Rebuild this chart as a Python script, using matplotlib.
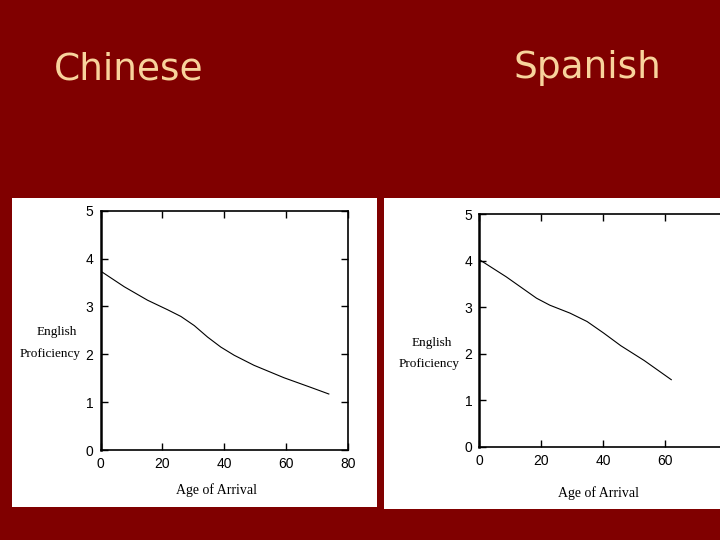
import matplotlib
matplotlib.use("Agg")
import matplotlib.pyplot as plt
from matplotlib.patches import Rectangle

# colours of the slide
bg = "#800000"
title_col = "#F8D39C"

# data
titles = ["Chinese", "Spanish"]
chinese_age = [0, 7.7, 15.2, 21.7, 26, 30.3, 34.6, 38.9, 43.2, 49.6, 59.3, 67.9, 73.8]
chinese_prof = [3.74, 3.41, 3.13, 2.93, 2.79, 2.60, 2.36, 2.15, 1.98, 1.77, 1.51, 1.31, 1.17]
spanish_age = [0, 8.7, 18.5, 22.8, 29.3, 34.8, 40.2, 45.7, 53.3, 62]
spanish_prof = [4.02, 3.65, 3.19, 3.04, 2.87, 2.69, 2.44, 2.17, 1.85, 1.44]
xticks = [0, 20, 40, 60, 80]
yticks = [0, 1, 2, 3, 4, 5]

W, H = 720, 540
fig = plt.figure(figsize=(7.2, 5.4), dpi=100, facecolor=bg)

def box(x0, y0, x1, y1):
    # pixel box (top-left origin) -> figure fraction rect
    return [x0 / W, 1 - y1 / H, (x1 - x0) / W, (y1 - y0) / H]

# white scanned panels
for (x0, y0, x1, y1) in [(12, 198, 376.5, 507), (384, 198, 722, 509)]:
    r = box(x0, y0, x1, y1)
    fig.patches.append(Rectangle((r[0], r[1]), r[2], r[3], transform=fig.transFigure,
                                 facecolor="white", edgecolor="none", zorder=-5))

# titles
fig.text(129 / W, 1 - 79 / H, titles[0], color=title_col, fontsize=27,
         family="DejaVu Sans", ha="center", va="baseline")
fig.text(587 / W, 1 - 78 / H, titles[1], color=title_col, fontsize=27,
         family="DejaVu Sans", ha="center", va="baseline")

ax1 = fig.add_axes(box(100.5, 210.7, 348, 450))
ax2 = fig.add_axes(box(479.3, 214, 727, 446.7))

def style(ax, xs, ys, eng_xy, prof_xy, xl_xy):
    ax.set_zorder(2)
    ax.patch.set_alpha(0)
    ax.plot(xs, ys, color="black", lw=0.8)
    ax.set_xlim(0, 80)
    ax.set_ylim(0, 5)
    ax.set_xticks(xticks)
    ax.set_yticks(yticks)
    ax.tick_params(direction="in", top=True, right=True, length=5, width=1,
                   labelsize=10, pad=5)
    for lab in ax.get_xticklabels() + ax.get_yticklabels():
        lab.set_family("Liberation Sans")
    for s in ax.spines.values():
        s.set_linewidth(1.2)
    ax.spines["left"].set_linewidth(1.8)
    ax.text(eng_xy[0], eng_xy[1], "English", transform=ax.transAxes,
            family="Liberation Serif", fontsize=9.5, ha="center", va="center")
    ax.text(prof_xy[0], prof_xy[1], "Proficiency", transform=ax.transAxes,
            family="Liberation Serif", fontsize=9.5, ha="center", va="center")
    ax.text(xl_xy[0], xl_xy[1], "Age of Arrival", transform=ax.transAxes,
            family="Liberation Serif", fontsize=10, ha="center", va="center")

# label positions (axes fractions)
style(ax1, chinese_age, chinese_prof,
      ((56.7 - 100.5) / 247.5, (450 - 331.7) / 239.3),
      ((50 - 100.5) / 247.5, (450 - 354.3) / 239.3),
      ((216 - 100.5) / 247.5, (450 - 490) / 239.3))
style(ax2, spanish_age, spanish_prof,
      ((432 - 479.3) / 247.7, (446.7 - 343) / 232.7),
      ((429 - 479.3) / 247.7, (446.7 - 364) / 232.7),
      ((599 - 479.3) / 247.7, (446.7 - 493) / 232.7))

fig.savefig("out.png", dpi=100, facecolor=bg)
